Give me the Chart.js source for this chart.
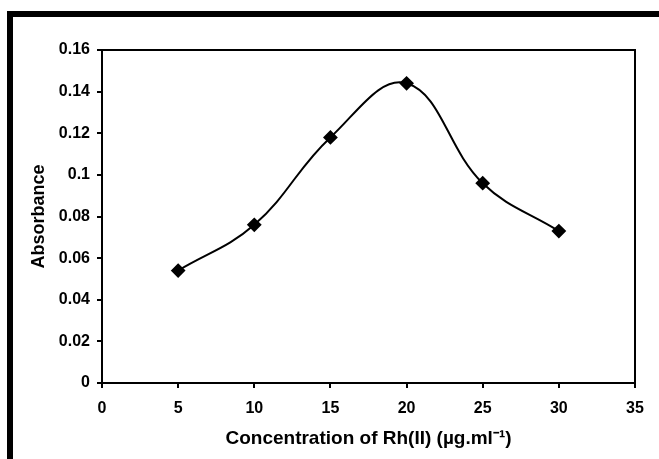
<!DOCTYPE html>
<html>
<head>
<meta charset="utf-8">
<script src="https://cdn.jsdelivr.net/npm/chart.js@4.4.0/dist/chart.umd.min.js"></script>
<style>
  html, body { margin: 0; padding: 0; background: #fff; }
  #wrap { position: relative; width: 659px; height: 459px; }
  #frame {
    position: absolute; left: 7px; top: 11px; right: 0; bottom: 0;
    border-top: 6px solid #000; border-left: 6px solid #000;
    pointer-events: none;
  }
</style>
</head>
<body>
<div id="wrap">
  <canvas id="chart" width="659" height="459"></canvas>
  <div id="frame"></div>
</div>
<script>
// Concentration (x) vs absorbance (y)
const concentration = [5, 10, 15, 20, 25, 30];
const absorbance = [0.054, 0.076, 0.118, 0.144, 0.096, 0.073];

const xTitle = 'Concentration of Rh(II) (\u00b5g.ml\u207b\u00b9)';
const yTitle = 'Absorbance';

const FONT = 'Arial, "Liberation Sans", sans-serif';

// box around the plot area (Excel style)
const plotBox = {
  id: 'plotBox',
  afterDraw(chart) {
    const { ctx, chartArea: a } = chart;
    ctx.save();
    ctx.strokeStyle = '#000';
    ctx.lineWidth = 2;
    ctx.strokeRect(a.left, a.top, a.right - a.left, a.bottom - a.top);
    ctx.restore();
  }
};

const config = {
  type: 'line',
  data: {
    datasets: [{
      data: concentration.map((x, i) => ({ x: x, y: absorbance[i] })),
      borderColor: '#000',
      backgroundColor: '#000',
      borderWidth: 2,
      tension: 0.4,
      pointStyle: 'rectRot',
      pointRadius: 6,
      pointHoverRadius: 6,
      fill: false
    }]
  },
  options: {
    responsive: false,
    animation: false,
    layout: { padding: { left: 28, top: 50, right: 24, bottom: 9 } },
    plugins: {
      legend: { display: false },
      tooltip: { enabled: false }
    },
    scales: {
      x: {
        type: 'linear',
        min: 0,
        max: 35,
        ticks: {
          stepSize: 5,
          color: '#000',
          padding: 11,
          maxRotation: 0,
          font: { family: FONT, size: 16, weight: 'bold' }
        },
        grid: { drawOnChartArea: false, tickLength: 5, color: '#000', lineWidth: 2 },
        border: { color: '#000', width: 2 },
        title: {
          display: true,
          text: xTitle,
          color: '#000',
          padding: 0,
          font: { family: FONT, size: 19, weight: 'bold' }
        },
        afterFit(scale) { scale.height = 67; }
      },
      y: {
        min: 0,
        max: 0.16,
        ticks: {
          stepSize: 0.02,
          color: '#000',
          padding: 7,
          font: { family: FONT, size: 16, weight: 'bold' },
          callback: v => String(+v.toFixed(2))
        },
        grid: { drawOnChartArea: false, tickLength: 5, color: '#000', lineWidth: 2 },
        border: { color: '#000', width: 2 },
        title: {
          display: true,
          text: yTitle,
          color: '#000',
          padding: 0,
          font: { family: FONT, size: 18, weight: 'bold' }
        },
        afterFit(scale) { scale.width = 74; }
      }
    }
  },
  plugins: [plotBox]
};

const myChart = new Chart(document.getElementById('chart'), config);
</script>
</body>
</html>
